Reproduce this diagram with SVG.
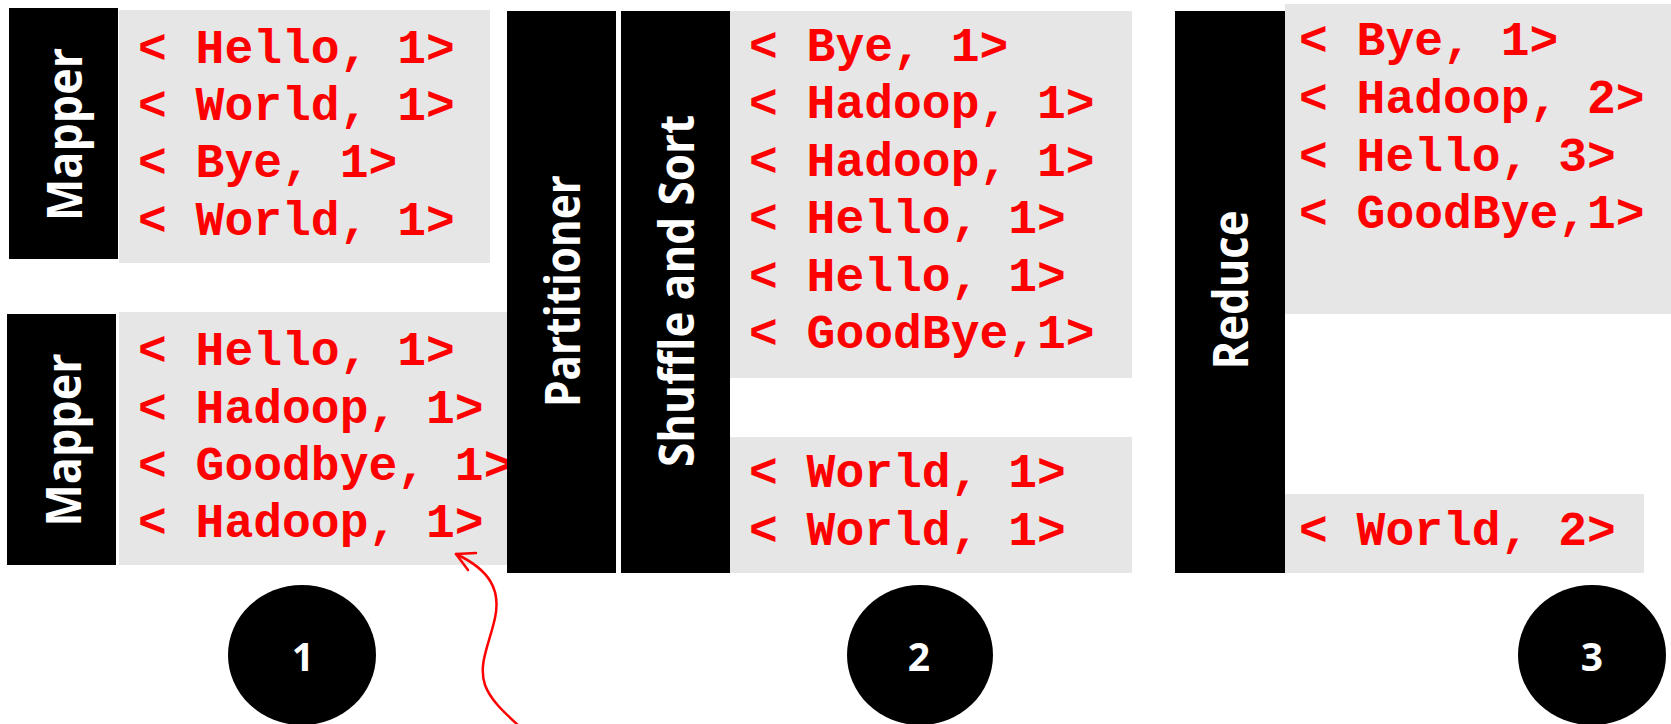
<svg xmlns="http://www.w3.org/2000/svg" width="1671" height="724" viewBox="0 0 1671 724">
  <style>
    .panel { fill: #e6e6e6; }
    .bar { fill: #000000; }
    .kv { font-family: "Liberation Mono", "Courier New", monospace; font-weight: bold; font-size: 48px; fill: #ff0000; white-space: pre; }
    .stage { font-family: "Open Sans", "Noto Sans", sans-serif; font-weight: bold; font-size: 48px; fill: #ffffff; text-anchor: middle; }
    .step { fill: #000000; }
    .stepnum { font-family: "Open Sans", "Noto Sans", sans-serif; font-weight: bold; font-size: 39px; fill: #ffffff; text-anchor: middle; }
    .callout { fill: none; stroke: #ff0000; stroke-width: 2.5; stroke-linecap: round; stroke-linejoin: round; }
  </style>

  <!-- first mapper output -->
  <g id="mapper1">
    <rect class="panel" x="119" y="10" width="371" height="253"/>
    <rect class="bar" x="9" y="8" width="109" height="251"/>
    <text class="stage" transform="translate(82,134.5) rotate(-90)" textLength="173" lengthAdjust="spacingAndGlyphs">Mapper</text>
    <text class="kv" x="138" y="63">&lt; Hello, 1&gt;</text>
    <text class="kv" x="138" y="120">&lt; World, 1&gt;</text>
    <text class="kv" x="138" y="177">&lt; Bye, 1&gt;</text>
    <text class="kv" x="138" y="235">&lt; World, 1&gt;</text>
  </g>

  <!-- second mapper output -->
  <g id="mapper2">
    <rect class="panel" x="119" y="312" width="390" height="253"/>
    <rect class="bar" x="7" y="314" width="109" height="251"/>
    <text class="stage" transform="translate(80.5,440) rotate(-90)" textLength="173" lengthAdjust="spacingAndGlyphs">Mapper</text>
    <text class="kv" x="138" y="365">&lt; Hello, 1&gt;</text>
    <text class="kv" x="138" y="423">&lt; Hadoop, 1&gt;</text>
    <text class="kv" x="138" y="480">&lt; Goodbye, 1&gt;</text>
    <text class="kv" x="138" y="537">&lt; Hadoop, 1&gt;</text>
  </g>

  <!-- partitioner bar -->
  <g id="partitioner">
    <rect class="bar" x="507" y="11" width="109" height="562"/>
    <text class="stage" transform="translate(580,291) rotate(-90)" textLength="232" lengthAdjust="spacingAndGlyphs">Partitioner</text>
  </g>

  <!-- shuffle and sort with grouped pairs -->
  <g id="shuffle">
    <rect class="bar" x="621" y="11" width="109" height="562"/>
    <text class="stage" transform="translate(694,291) rotate(-90)" textLength="352" lengthAdjust="spacingAndGlyphs">Shuffle and Sort</text>
    <rect class="panel" x="730" y="11" width="402" height="367"/>
    <rect class="panel" x="730" y="437" width="402" height="136"/>
    <text class="kv" x="749" y="61">&lt; Bye, 1&gt;</text>
    <text class="kv" x="749" y="118">&lt; Hadoop, 1&gt;</text>
    <text class="kv" x="749" y="176">&lt; Hadoop, 1&gt;</text>
    <text class="kv" x="749" y="233">&lt; Hello, 1&gt;</text>
    <text class="kv" x="749" y="291">&lt; Hello, 1&gt;</text>
    <text class="kv" x="749" y="348">&lt; GoodBye,1&gt;</text>
    <text class="kv" x="749" y="487">&lt; World, 1&gt;</text>
    <text class="kv" x="749" y="545">&lt; World, 1&gt;</text>
  </g>

  <!-- reducer output -->
  <g id="reduce">
    <rect class="bar" x="1175" y="11" width="110" height="562"/>
    <text class="stage" transform="translate(1248,290) rotate(-90)" textLength="159" lengthAdjust="spacingAndGlyphs">Reduce</text>
    <rect class="panel" x="1285" y="4" width="386" height="310"/>
    <rect class="panel" x="1285" y="494" width="359" height="79"/>
    <text class="kv" x="1299" y="55">&lt; Bye, 1&gt;</text>
    <text class="kv" x="1299" y="113">&lt; Hadoop, 2&gt;</text>
    <text class="kv" x="1299" y="171">&lt; Hello, 3&gt;</text>
    <text class="kv" x="1299" y="228">&lt; GoodBye,1&gt;</text>
    <text class="kv" x="1299" y="545">&lt; World, 2&gt;</text>
  </g>

  <!-- step markers -->
  <g id="step1">
    <ellipse class="step" cx="302" cy="655" rx="74" ry="70"/>
    <text class="stepnum" x="303" y="671">1</text>
  </g>
  <g id="step2">
    <ellipse class="step" cx="920" cy="655" rx="73" ry="70"/>
    <text class="stepnum" x="919" y="671">2</text>
  </g>
  <g id="step3">
    <ellipse class="step" cx="1592" cy="655" rx="74" ry="70"/>
    <text class="stepnum" x="1592" y="671">3</text>
  </g>

  <!-- hand-drawn pointer to the last mapper pair -->
  <g id="connectors">
    <path class="callout" d="M456,554 C490,570 501,590 495,618 C489,645 478,664 485,685 C491,701 505,713 519,726"/>
    <path class="callout" d="M476,553 L456,554 L468,570"/>
  </g>
</svg>
